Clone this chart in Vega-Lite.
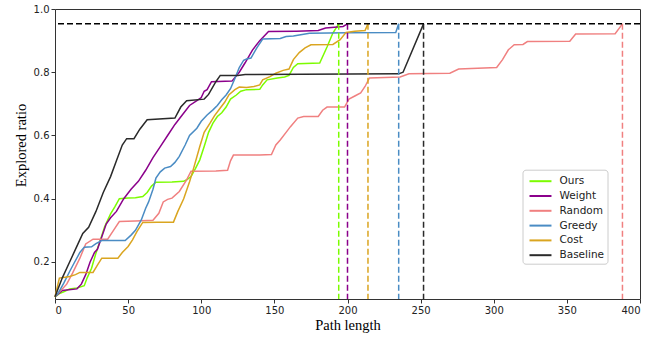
{
"$schema": "https://vega.github.io/schema/vega-lite/v6.json",
"width": 585, "height": 290, "autosize": "none",
"padding": {"left": 55, "top": 9, "right": 21, "bottom": 40},
"background": "white",
"config": {
 "view": {"stroke": "#333", "strokeWidth": 1},
 "axis": {"grid": false, "domain": false, "ticks": true, "tickColor": "#333", "tickSize": 4, "labelFont": "DejaVu Sans", "labelFontSize": 10, "labelColor": "#222", "labelPadding": 2, "titleFont": "Liberation Serif", "titleFontSize": 14.5, "titleFontWeight": "normal", "titleColor": "black"}
},
"datasets": {
 "series": [
  {"method":"Ours","x":0,"y":0.09},{"method":"Ours","x":3,"y":0.1},{"method":"Ours","x":6,"y":0.106},{"method":"Ours","x":10,"y":0.115},{"method":"Ours","x":15,"y":0.118},{"method":"Ours","x":20,"y":0.125},{"method":"Ours","x":22,"y":0.15},{"method":"Ours","x":25,"y":0.18},{"method":"Ours","x":28,"y":0.228},{"method":"Ours","x":31,"y":0.27},{"method":"Ours","x":34,"y":0.312},{"method":"Ours","x":38,"y":0.352},{"method":"Ours","x":41,"y":0.375},{"method":"Ours","x":44,"y":0.4},{"method":"Ours","x":50,"y":0.402},{"method":"Ours","x":55,"y":0.403},{"method":"Ours","x":60,"y":0.407},{"method":"Ours","x":63,"y":0.42},{"method":"Ours","x":66,"y":0.44},{"method":"Ours","x":69,"y":0.452},{"method":"Ours","x":80,"y":0.453},{"method":"Ours","x":88,"y":0.455},{"method":"Ours","x":90,"y":0.46},{"method":"Ours","x":93,"y":0.47},{"method":"Ours","x":96,"y":0.495},{"method":"Ours","x":99,"y":0.523},{"method":"Ours","x":102,"y":0.565},{"method":"Ours","x":105,"y":0.61},{"method":"Ours","x":108,"y":0.639},{"method":"Ours","x":111,"y":0.66},{"method":"Ours","x":114,"y":0.672},{"method":"Ours","x":117,"y":0.69},{"method":"Ours","x":120,"y":0.715},{"method":"Ours","x":124,"y":0.728},{"method":"Ours","x":127,"y":0.74},{"method":"Ours","x":131,"y":0.745},{"method":"Ours","x":140,"y":0.746},{"method":"Ours","x":142,"y":0.76},{"method":"Ours","x":145,"y":0.776},{"method":"Ours","x":152,"y":0.782},{"method":"Ours","x":157,"y":0.785},{"method":"Ours","x":160,"y":0.79},{"method":"Ours","x":163,"y":0.815},{"method":"Ours","x":166,"y":0.827},{"method":"Ours","x":181,"y":0.829},{"method":"Ours","x":186,"y":0.88},{"method":"Ours","x":190,"y":0.924},{"method":"Ours","x":194,"y":0.953},
  {"method":"Weight","x":0,"y":0.09},{"method":"Weight","x":5,"y":0.11},{"method":"Weight","x":15,"y":0.115},{"method":"Weight","x":18,"y":0.13},{"method":"Weight","x":21,"y":0.16},{"method":"Weight","x":24,"y":0.2},{"method":"Weight","x":27,"y":0.23},{"method":"Weight","x":29,"y":0.24},{"method":"Weight","x":32,"y":0.28},{"method":"Weight","x":35,"y":0.32},{"method":"Weight","x":38,"y":0.34},{"method":"Weight","x":42,"y":0.36},{"method":"Weight","x":47,"y":0.4},{"method":"Weight","x":52,"y":0.43},{"method":"Weight","x":57,"y":0.455},{"method":"Weight","x":62,"y":0.49},{"method":"Weight","x":67,"y":0.53},{"method":"Weight","x":72,"y":0.565},{"method":"Weight","x":77,"y":0.6},{"method":"Weight","x":82,"y":0.635},{"method":"Weight","x":87,"y":0.665},{"method":"Weight","x":92,"y":0.695},{"method":"Weight","x":97,"y":0.71},{"method":"Weight","x":100,"y":0.72},{"method":"Weight","x":102,"y":0.74},{"method":"Weight","x":104,"y":0.745},{"method":"Weight","x":107,"y":0.77},{"method":"Weight","x":121,"y":0.772},{"method":"Weight","x":126,"y":0.8},{"method":"Weight","x":130,"y":0.83},{"method":"Weight","x":135,"y":0.87},{"method":"Weight","x":140,"y":0.9},{"method":"Weight","x":146,"y":0.929},{"method":"Weight","x":165,"y":0.93},{"method":"Weight","x":180,"y":0.932},{"method":"Weight","x":185,"y":0.94},{"method":"Weight","x":197,"y":0.945},{"method":"Weight","x":200,"y":0.953},
  {"method":"Random","x":0,"y":0.09},{"method":"Random","x":4,"y":0.11},{"method":"Random","x":8,"y":0.13},{"method":"Random","x":12,"y":0.165},{"method":"Random","x":17,"y":0.212},{"method":"Random","x":21,"y":0.257},{"method":"Random","x":26,"y":0.272},{"method":"Random","x":36,"y":0.272},{"method":"Random","x":40,"y":0.3},{"method":"Random","x":44,"y":0.328},{"method":"Random","x":55,"y":0.33},{"method":"Random","x":67,"y":0.332},{"method":"Random","x":71,"y":0.354},{"method":"Random","x":74,"y":0.39},{"method":"Random","x":77,"y":0.398},{"method":"Random","x":80,"y":0.402},{"method":"Random","x":85,"y":0.423},{"method":"Random","x":90,"y":0.46},{"method":"Random","x":93,"y":0.487},{"method":"Random","x":110,"y":0.488},{"method":"Random","x":118,"y":0.49},{"method":"Random","x":120,"y":0.52},{"method":"Random","x":122,"y":0.538},{"method":"Random","x":140,"y":0.538},{"method":"Random","x":148,"y":0.54},{"method":"Random","x":151,"y":0.57},{"method":"Random","x":154,"y":0.586},{"method":"Random","x":158,"y":0.61},{"method":"Random","x":161,"y":0.628},{"method":"Random","x":166,"y":0.655},{"method":"Random","x":170,"y":0.66},{"method":"Random","x":180,"y":0.66},{"method":"Random","x":183,"y":0.68},{"method":"Random","x":186,"y":0.69},{"method":"Random","x":198,"y":0.69},{"method":"Random","x":201,"y":0.715},{"method":"Random","x":205,"y":0.725},{"method":"Random","x":209,"y":0.735},{"method":"Random","x":212,"y":0.755},{"method":"Random","x":215,"y":0.782},{"method":"Random","x":236,"y":0.785},{"method":"Random","x":242,"y":0.795},{"method":"Random","x":270,"y":0.797},{"method":"Random","x":276,"y":0.81},{"method":"Random","x":302,"y":0.815},{"method":"Random","x":306,"y":0.84},{"method":"Random","x":310,"y":0.871},{"method":"Random","x":314,"y":0.887},{"method":"Random","x":320,"y":0.888},{"method":"Random","x":323,"y":0.897},{"method":"Random","x":352,"y":0.898},{"method":"Random","x":356,"y":0.921},{"method":"Random","x":383,"y":0.922},{"method":"Random","x":388,"y":0.953},
  {"method":"Greedy","x":0,"y":0.09},{"method":"Greedy","x":2,"y":0.1},{"method":"Greedy","x":6,"y":0.133},{"method":"Greedy","x":10,"y":0.17},{"method":"Greedy","x":13,"y":0.196},{"method":"Greedy","x":17,"y":0.23},{"method":"Greedy","x":20,"y":0.247},{"method":"Greedy","x":25,"y":0.248},{"method":"Greedy","x":28,"y":0.258},{"method":"Greedy","x":32,"y":0.268},{"method":"Greedy","x":40,"y":0.268},{"method":"Greedy","x":48,"y":0.268},{"method":"Greedy","x":52,"y":0.285},{"method":"Greedy","x":55,"y":0.3},{"method":"Greedy","x":59,"y":0.333},{"method":"Greedy","x":62,"y":0.37},{"method":"Greedy","x":64,"y":0.39},{"method":"Greedy","x":67,"y":0.43},{"method":"Greedy","x":69,"y":0.465},{"method":"Greedy","x":72,"y":0.485},{"method":"Greedy","x":75,"y":0.497},{"method":"Greedy","x":79,"y":0.502},{"method":"Greedy","x":82,"y":0.515},{"method":"Greedy","x":85,"y":0.534},{"method":"Greedy","x":89,"y":0.57},{"method":"Greedy","x":92,"y":0.6},{"method":"Greedy","x":97,"y":0.623},{"method":"Greedy","x":100,"y":0.645},{"method":"Greedy","x":104,"y":0.665},{"method":"Greedy","x":108,"y":0.681},{"method":"Greedy","x":111,"y":0.695},{"method":"Greedy","x":114,"y":0.713},{"method":"Greedy","x":117,"y":0.728},{"method":"Greedy","x":120,"y":0.748},{"method":"Greedy","x":123,"y":0.78},{"method":"Greedy","x":126,"y":0.815},{"method":"Greedy","x":129,"y":0.838},{"method":"Greedy","x":131,"y":0.842},{"method":"Greedy","x":134,"y":0.845},{"method":"Greedy","x":138,"y":0.877},{"method":"Greedy","x":142,"y":0.905},{"method":"Greedy","x":154,"y":0.907},{"method":"Greedy","x":158,"y":0.913},{"method":"Greedy","x":163,"y":0.915},{"method":"Greedy","x":167,"y":0.918},{"method":"Greedy","x":174,"y":0.923},{"method":"Greedy","x":200,"y":0.925},{"method":"Greedy","x":233,"y":0.926},{"method":"Greedy","x":235,"y":0.953},
  {"method":"Cost","x":0,"y":0.09},{"method":"Cost","x":3,"y":0.149},{"method":"Cost","x":7,"y":0.152},{"method":"Cost","x":10,"y":0.154},{"method":"Cost","x":14,"y":0.16},{"method":"Cost","x":17,"y":0.167},{"method":"Cost","x":26,"y":0.167},{"method":"Cost","x":29,"y":0.19},{"method":"Cost","x":32,"y":0.212},{"method":"Cost","x":43,"y":0.212},{"method":"Cost","x":46,"y":0.23},{"method":"Cost","x":50,"y":0.249},{"method":"Cost","x":53,"y":0.27},{"method":"Cost","x":56,"y":0.296},{"method":"Cost","x":60,"y":0.325},{"method":"Cost","x":70,"y":0.326},{"method":"Cost","x":81,"y":0.326},{"method":"Cost","x":84,"y":0.36},{"method":"Cost","x":88,"y":0.4},{"method":"Cost","x":92,"y":0.454},{"method":"Cost","x":95,"y":0.5},{"method":"Cost","x":99,"y":0.565},{"method":"Cost","x":102,"y":0.61},{"method":"Cost","x":106,"y":0.639},{"method":"Cost","x":109,"y":0.662},{"method":"Cost","x":113,"y":0.687},{"method":"Cost","x":116,"y":0.705},{"method":"Cost","x":119,"y":0.729},{"method":"Cost","x":123,"y":0.745},{"method":"Cost","x":126,"y":0.753},{"method":"Cost","x":131,"y":0.752},{"method":"Cost","x":136,"y":0.755},{"method":"Cost","x":140,"y":0.76},{"method":"Cost","x":142,"y":0.776},{"method":"Cost","x":147,"y":0.786},{"method":"Cost","x":151,"y":0.797},{"method":"Cost","x":156,"y":0.806},{"method":"Cost","x":160,"y":0.81},{"method":"Cost","x":163,"y":0.84},{"method":"Cost","x":167,"y":0.862},{"method":"Cost","x":171,"y":0.877},{"method":"Cost","x":175,"y":0.887},{"method":"Cost","x":190,"y":0.888},{"method":"Cost","x":195,"y":0.903},{"method":"Cost","x":199,"y":0.926},{"method":"Cost","x":205,"y":0.93},{"method":"Cost","x":212,"y":0.932},{"method":"Cost","x":214,"y":0.953},
  {"method":"Baseline","x":0,"y":0.09},{"method":"Baseline","x":5,"y":0.15},{"method":"Baseline","x":10,"y":0.2},{"method":"Baseline","x":15,"y":0.25},{"method":"Baseline","x":19,"y":0.29},{"method":"Baseline","x":23,"y":0.31},{"method":"Baseline","x":28,"y":0.36},{"method":"Baseline","x":33,"y":0.42},{"method":"Baseline","x":38,"y":0.47},{"method":"Baseline","x":42,"y":0.52},{"method":"Baseline","x":46,"y":0.57},{"method":"Baseline","x":49,"y":0.59},{"method":"Baseline","x":54,"y":0.59},{"method":"Baseline","x":58,"y":0.62},{"method":"Baseline","x":63,"y":0.65},{"method":"Baseline","x":82,"y":0.655},{"method":"Baseline","x":86,"y":0.69},{"method":"Baseline","x":90,"y":0.71},{"method":"Baseline","x":102,"y":0.715},{"method":"Baseline","x":105,"y":0.73},{"method":"Baseline","x":110,"y":0.77},{"method":"Baseline","x":113,"y":0.79},{"method":"Baseline","x":125,"y":0.79},{"method":"Baseline","x":130,"y":0.793},{"method":"Baseline","x":235,"y":0.795},{"method":"Baseline","x":238,"y":0.8},{"method":"Baseline","x":252,"y":0.953}
 ],
 "ends": [
  {"method":"Ours","x":194},{"method":"Weight","x":200},{"method":"Random","x":388},{"method":"Greedy","x":235},{"method":"Cost","x":214},{"method":"Baseline","x":252}
 ],
 "threshold": [{"ratio":0.953}]
},
"layer": [
 {"data":{"name":"series"},
  "mark":{"type":"line","strokeWidth":1.5},
  "encoding":{
   "x":{"field":"x","type":"quantitative","scale":{"domain":[0,400],"nice":false,"zero":false},"axis":{"values":[0,50,100,150,200,250,300,350,400],"title":"Path length","titlePadding":3}},
   "y":{"field":"y","type":"quantitative","scale":{"domain":[0.083,1.0],"nice":false,"zero":false},"axis":{"values":[0.2,0.4,0.6,0.8,1.0],"format":".1f","title":"Explored ratio","titleY":136,"titlePadding":5}},
   "color":{"field":"method","type":"nominal","scale":{"domain":["Ours","Weight","Random","Greedy","Cost","Baseline"],"range":["#7CFC00","#8B008B","#F08080","#4a8cc4","#DAA520","#2a2a2a"]},
    "legend":{"title":null,"orient":"none","legendX":467.5,"legendY":160.7,"symbolType":"M-0.6,0H2.33","symbolSize":225,"symbolStrokeWidth":2,"symbolDash":[],"labelFont":"DejaVu Sans","labelFontSize":10.5,"labelColor":"#222","labelOffset":17,"rowPadding":0.8,"padding":3,"strokeColor":"#ccc","fillColor":"white","cornerRadius":3}}
  }},
 {"data":{"name":"ends"},
  "mark":{"type":"rule","strokeDash":[6,3],"strokeWidth":1.5},
  "encoding":{"x":{"field":"x","type":"quantitative"},"y":{"datum":0.953},"y2":{"datum":0.083},"color":{"field":"method","type":"nominal"}}},
 {"data":{"name":"threshold"},
  "mark":{"type":"rule","strokeDash":[6,3],"strokeWidth":1.5,"color":"black"},
  "encoding":{"y":{"field":"ratio","type":"quantitative"}}}
]
}
